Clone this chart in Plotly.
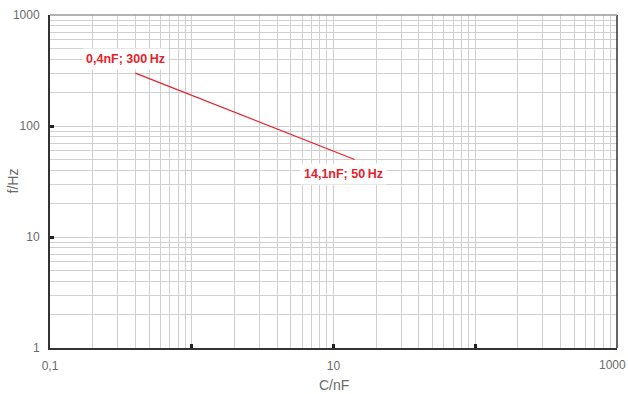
import math
import plotly.graph_objects as go

cap_nF = [0.4, 14.1]
freq_Hz = [300, 50]
labels = ["0,4nF; 300\u2009Hz", "14,1nF; 50\u2009Hz"]
x_tickvals = [0.1, 1, 10, 100, 1000]
x_ticktext = ["0,1", "", "10", "", ""]
x_last_label = "1000"
y_tickvals = [1, 10, 100, 1000]
y_ticktext = ["1", "10", "100", "1000"]

red = "#e8202a"
font_fam = "Liberation Sans, Arial"
lab_col = "#6a6a6a"
fig = go.Figure()
fig.add_trace(go.Scatter(x=cap_nF, y=freq_Hz, mode="lines",
                         line=dict(color=red, width=1.2), hoverinfo="skip"))

shifts = [(-10, 14), (-11, -15)]
for x, y, t, (dx, dy) in zip(cap_nF, freq_Hz, labels, shifts):
    fig.add_annotation(x=math.log10(x), y=math.log10(y), xref="x", yref="y",
                       text="<b>" + t + "</b>",
                       showarrow=False, xshift=dx, yshift=dy,
                       bgcolor="white", borderpad=3,
                       font=dict(family=font_fam, size=12.5, color=red))

grid = "#d0d0d0"
fig.update_xaxes(type="log", range=[-1, 3.0004], tickvals=x_tickvals, ticktext=x_ticktext,
                 showgrid=True, gridcolor=grid, gridwidth=1,
                 minor=dict(dtick="D1", showgrid=True, gridcolor=grid, ticks=""),
                 ticks="inside", ticklen=4, tickwidth=3, tickcolor="#222",
                 showline=True, linecolor="#333", linewidth=2, mirror=False,
                 zeroline=False, automargin=False, ticklabelstandoff=6,
                 tickfont=dict(family=font_fam, size=12, color=lab_col))
fig.update_yaxes(type="log", range=[0, 3.0004], tickvals=y_tickvals, ticktext=y_ticktext,
                 showgrid=True, gridcolor=grid, gridwidth=1,
                 minor=dict(dtick="D1", showgrid=True, gridcolor=grid, ticks=""),
                 ticks="inside", ticklen=4, tickwidth=3, tickcolor="#222",
                 showline=True, linecolor="#333", linewidth=2,
                 zeroline=False, automargin=False, ticklabelstandoff=6,
                 tickfont=dict(family=font_fam, size=12, color=lab_col))

fig.add_annotation(text=x_last_label, xref="paper", yref="paper", x=1, y=0,
                   xanchor="right", yanchor="top", xshift=11, yshift=-8,
                   showarrow=False, font=dict(family=font_fam, size=12, color=lab_col))
fig.add_annotation(text="C/nF", xref="paper", yref="paper", x=0.5, y=0, yshift=-37,
                   xanchor="center", yanchor="middle",
                   showarrow=False, font=dict(family=font_fam, size=14, color=lab_col))
fig.add_annotation(text="f/Hz", xref="paper", yref="paper", x=0, y=0.5, xshift=-38,
                   xanchor="center", yanchor="middle",
                   textangle=-90, showarrow=False,
                   font=dict(family=font_fam, size=14, color=lab_col))

# right and top borders
fig.add_shape(type="line", xref="paper", yref="paper", x0=1, x1=1, y0=0, y1=1,
              line=dict(color="#333", width=1.5))
fig.add_shape(type="line", xref="paper", yref="paper", x0=0, x1=1, y0=1, y1=1,
              line=dict(color="#999", width=1.5))

fig.update_layout(width=628, height=394, margin=dict(l=50, r=11, t=15, b=46),
                  plot_bgcolor="white", paper_bgcolor="white", showlegend=False)
fig.write_html("out.html")
